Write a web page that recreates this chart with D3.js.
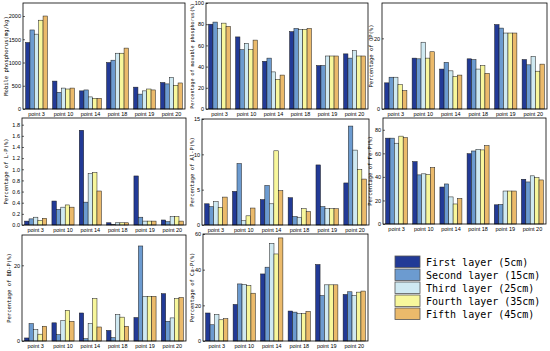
<!DOCTYPE html>
<html><head><meta charset="utf-8">
<script src="https://cdn.jsdelivr.net/npm/d3@7"></script>
<style>body{margin:0;background:#fff}svg{display:block}</style>
</head><body>
<svg id="c" width="550" height="351"></svg>
<script>
const categories = ["point 3","point 10","point 14","point 18","point 19","point 20"];
const layers = ["First layer (5cm)","Second layer (15cm)","Third layer (25cm)","Fourth layer (35cm)","Fifth layer (45cm)"];
const layerColors = ["#223a96","#6c9bd0","#cfe9f2","#f8f79c","#ebba6b"];

// values per point: [layer1..layer5]
const mobileP = [[1430,1700,1610,1910,2000],[600,360,450,430,450],[390,410,260,230,230],[1000,1050,1200,1200,1310],[470,320,390,430,410],[570,540,680,510,560]];
const movableP = [[80,82,76,81,78],[68,56,62,56,65],[45,48,35,28,32],[73,76,75,75,76],[41,41,50,50,50],[52,48,55,50,50]];
const opP = [[7.4,9,9,6.9,5.2],[14.4,14.2,18.9,14.4,16.2],[11.3,13.2,10.8,9.2,9.6],[14.2,14,11.3,12.3,10.1],[23.9,22.9,21.5,21.5,21.5],[14,12.5,14.9,10.7,12.7]];
const lP = [[0.07,0.11,0.14,0.08,0.12],[0.43,0.28,0.32,0.36,0.32],[1.70,0.41,0.92,0.94,0.61],[0.04,0.01,0.04,0.04,0.04],[0.88,0.14,0.07,0.07,0.07],[0.09,0.06,0.15,0.15,0.07]];
const alP = [[3.0,2.6,3.3,2.5,3.95],[4.76,8.7,0.6,1.3,2.4],[3.6,5.6,3.0,10.5,4.86],[3.86,1.2,1.1,2.3,1.9],[8.5,2.6,2.3,2.3,2.3],[5.95,14.0,10.6,7.86,6.5]];
const feP = [[72.9,72.9,68.6,74.6,73.4],[53,41.7,42.6,42,48],[31.4,34,23,17,21.7],[59.7,62,63.4,62.9,66.6],[16.3,16.6,28,28,28],[38,35.7,40.9,39.4,37.4]];
const bdP = [[0.8,4.6,3,1.8,3.9],[4.8,1.7,5.4,8.1,5.2],[7.4,0.6,4.6,11.2,3.7],[2.8,0.9,7.0,6.3,3.9],[6.2,25.1,11.8,11.8,11.8],[12.5,5.2,6.1,11.2,11.5]];
const caP = [[15.7,9.1,14.9,11.9,12.5],[20.5,32,31.7,31.1,26.8],[37.6,41.4,54.8,48.8,57.8],[16.8,16.2,15.3,15.3,16.6],[42.9,25.5,31.5,31.5,31.5],[26.1,27.6,25.5,27.4,28]];

const yLabels = ["Mobile phosphorus(mg/kg)","Percentage of movable phosphorus(%)","Percentage of OP(%)","Percentage of L-P(%)","Percentage of Al-P(%)","Percentage of Fe-P(%)","Percentage of BD-P(%)","Percentage of Ca-P(%)"];
const yTicks = [[0,500,1000,1500,2000],[0,20,40,60,80,100],[0,20],[0,0.2,0.4,0.6,0.8,1.0,1.2,1.4,1.6,1.8],[0,5,10,15],[0,20,40,60,80],[0,20],[0,20,40,60]];
const yMax = [2280,100,30,1.92,15,90,28,60];
const seriesList = [mobileP,movableP,opP,lP,alP,feP,bdP,caP];

// layout (pixel boxes of each plot area)
const boxes = [
  {x:23,y:3,w:162,h:106,lx:6,fs:5.5},
  {x:206,y:3,w:162,h:106,lx:193,fs:5},
  {x:382,y:3,w:165,h:106,lx:371,fs:5.5},
  {x:22,y:118,w:164,h:107,lx:6,fs:5.5},
  {x:202,y:119,w:167,h:106,lx:192,fs:5.5},
  {x:383,y:118,w:163,h:106,lx:370,fs:5.5},
  {x:22,y:235,w:164,h:106,lx:9,fs:5.5},
  {x:203,y:234,w:165,h:107,lx:192,fs:5.5}
];

const svg = d3.select("#c");

seriesList.forEach((data, i) => {
  const b = boxes[i];
  const g = svg.append("g").attr("transform", `translate(${b.x},${b.y})`);
  const x0 = d3.scaleBand().domain(categories).range([0,b.w]).paddingInner(0.19).paddingOuter(0.095);
  const x1 = d3.scaleBand().domain(d3.range(5)).range([0,x0.bandwidth()]).padding(0);
  const y = d3.scaleLinear().domain([0,yMax[i]]).range([b.h,0]);

  const grp = g.selectAll("g.grp").data(data).join("g")
    .attr("transform",(d,k)=>`translate(${x0(categories[k])},0)`);
  grp.selectAll("rect").data(d=>d).join("rect")
    .attr("x",(d,j)=>x1(j)).attr("width",x1.bandwidth())
    .attr("y",d=>y(d)).attr("height",d=>b.h-y(d))
    .attr("fill",(d,j)=>layerColors[j])
    .attr("stroke","#1a1a1a").attr("stroke-width",0.5);

  const fmt = i===3 ? d3.format(".1f") : d3.format("d");
  const ya = g.append("g").call(d3.axisLeft(y).tickValues(yTicks[i]).tickFormat(fmt).tickSize(-2).tickPadding(2));
  ya.select(".domain").remove();
  ya.selectAll("text").attr("font-family","Liberation Sans, Arial, sans-serif").attr("font-size","5.5px").attr("fill","#000");
  ya.selectAll("line").attr("stroke","#000").attr("stroke-width",0.6);

  const xa = g.append("g").attr("transform",`translate(0,${b.h})`)
    .call(d3.axisBottom(x0).tickSize(0).tickPadding(3));
  xa.select(".domain").remove();
  xa.selectAll("text").attr("font-family","Liberation Sans, Arial, sans-serif").attr("font-size","5.5px").attr("fill","#000");

  g.append("rect").attr("x",0).attr("y",0).attr("width",b.w).attr("height",b.h)
    .attr("fill","none").attr("stroke","#000").attr("stroke-width",0.8);

  svg.append("text")
    .attr("transform",`translate(${b.lx},${b.y+b.h/2}) rotate(-90)`)
    .attr("text-anchor","middle").attr("dominant-baseline","middle")
    .attr("font-family","DejaVu Sans Mono, monospace").attr("font-size",b.fs+"px")
    .text(yLabels[i]);
});

// legend
const lg = svg.append("g").attr("transform","translate(395,256)");
layers.forEach((name,j)=>{
  lg.append("rect").attr("x",0).attr("y",j*13).attr("width",25).attr("height",11.5)
    .attr("fill",layerColors[j]).attr("stroke","#555").attr("stroke-width",0.8);
  lg.append("text").attr("x",31).attr("y",j*13+9.5)
    .attr("font-family","DejaVu Sans Mono, monospace").attr("font-size","10px").attr("fill","#000")
    .text(name);
});
</script>
</body></html>
